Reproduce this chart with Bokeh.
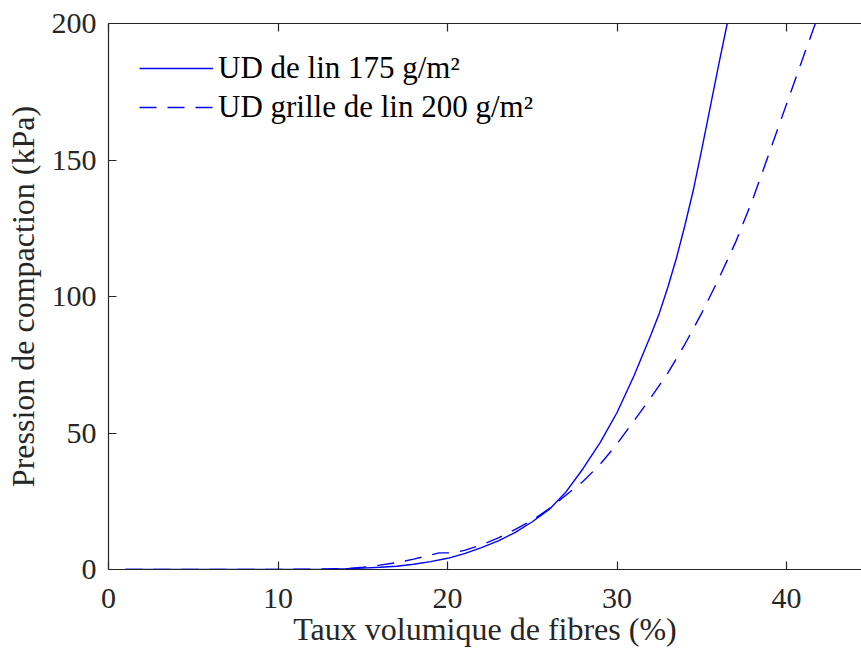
from bokeh.plotting import figure
from bokeh.models import Range1d, FixedTicker, LinearAxis, Legend, LegendItem
from bokeh.embed import file_html
from bokeh.resources import INLINE

x_ticks = [0, 10, 20, 30, 40]
y_ticks = [0, 50, 100, 150, 200]
x_title = "Taux volumique de fibres (%)"
y_title = "Pression de compaction (kPa)"

ud_lin_label = "UD de lin 175 g/m²"
ud_lin_x = [1, 5, 10, 12, 13, 14, 15, 16, 17, 18, 19, 20, 21, 22, 23, 24, 25, 26,
            27, 28, 29, 30, 31, 32, 32.5, 33, 33.5, 34, 34.5, 35, 35.5, 36, 36.5]
ud_lin_y = [0, 0, 0, 0.05, 0.15, 0.3, 0.5, 0.8, 1.2, 1.9, 2.9, 4.1, 5.8, 8.0, 10.5,
            13.6, 17.5, 22.0, 28.5, 37.0, 46.5, 57.5, 71.0, 86.0, 94.0, 103.5,
            114.0, 126.0, 139.0, 154.0, 169.5, 185.0, 200.0]

ud_grille_label = "UD grille de lin 200 g/m²"
ud_grille_x = [1, 10, 14, 15, 16, 17, 18, 19, 19.5, 20.3, 21, 22, 23, 24, 25, 26, 27,
               28, 29, 30, 31, 32, 33, 34, 35, 36, 37, 38, 39, 40, 41, 41.7]
ud_grille_y = [0, 0, 0.3, 0.8, 1.6, 2.5, 3.8, 5.3, 6.1, 6.1, 7.0, 9.0, 11.6, 14.7,
               18.0, 22.3, 27.3, 32.3, 38.5, 46.0, 54.5, 63.0, 72.0, 82.5, 94.0,
               106.5, 120.0, 135.5, 153.0, 170.5, 188.0, 200.0]

FONT = "Liberation Serif"
TICK_FS = "30px"
LABEL_FS = "32px"
LEGEND_FS = "31px"
INK = "#262626"
BLUE = "#0000FF"

p = figure(width=861, height=649, output_backend="svg", toolbar_location=None,
           x_range=Range1d(0, 44.42), y_range=Range1d(0, 200),
           min_border_left=108, min_border_right=0, min_border_top=23,
           min_border_bottom=79)
p.outline_line_color = None
p.xgrid.visible = False
p.ygrid.visible = False
p.background_fill_color = "white"
p.border_fill_color = "white"

for ax in (p.xaxis[0], p.yaxis[0]):
    ax.axis_line_color = INK
    ax.axis_line_width = 1.2
    ax.major_tick_line_color = INK
    ax.major_tick_line_width = 1.2
    ax.major_tick_in = 8
    ax.major_tick_out = 0
    ax.minor_tick_line_color = None
    ax.major_label_text_font = FONT
    ax.major_label_text_font_size = TICK_FS
    ax.major_label_text_color = INK
    ax.axis_label_text_font = FONT
    ax.axis_label_text_font_size = LABEL_FS
    ax.axis_label_text_font_style = "normal"
    ax.axis_label_text_color = INK

p.xaxis.ticker = FixedTicker(ticks=x_ticks)
p.yaxis.ticker = FixedTicker(ticks=y_ticks)
p.xaxis.axis_label = x_title
p.yaxis.axis_label = y_title
p.xaxis.major_label_standoff = 19
p.yaxis.major_label_standoff = 12
p.xaxis.axis_label_standoff = 0
p.yaxis.axis_label_standoff = 8

top = LinearAxis(ticker=FixedTicker(ticks=x_ticks))
top.axis_line_color = INK
top.axis_line_width = 1.2
top.major_tick_line_color = INK
top.major_tick_line_width = 1.2
top.major_tick_in = 8
top.major_tick_out = 0
top.minor_tick_line_color = None
top.major_label_overrides = {t: "" for t in x_ticks}
top.major_label_standoff = 0
p.add_layout(top, "above")

r1 = p.line(ud_lin_x, ud_lin_y, line_color=BLUE, line_width=1.4)
r2 = p.line(ud_grille_x, ud_grille_y, line_color=BLUE, line_width=1.4,
            line_dash="17 11")

legend = Legend(items=[LegendItem(label=ud_lin_label, renderers=[r1]),
                       LegendItem(label=ud_grille_label, renderers=[r2])],
                location=(31, 444))
legend.border_line_color = None
legend.background_fill_alpha = 0
legend.margin = 0
legend.padding = 0
legend.spacing = 3
legend.glyph_width = 74
legend.glyph_height = 30
legend.label_height = 30
legend.label_standoff = 5
legend.label_text_font = FONT
legend.label_text_font_size = LEGEND_FS
legend.label_text_color = "black"
p.add_layout(legend)

open("out.html", "w").write(file_html(p, INLINE))
